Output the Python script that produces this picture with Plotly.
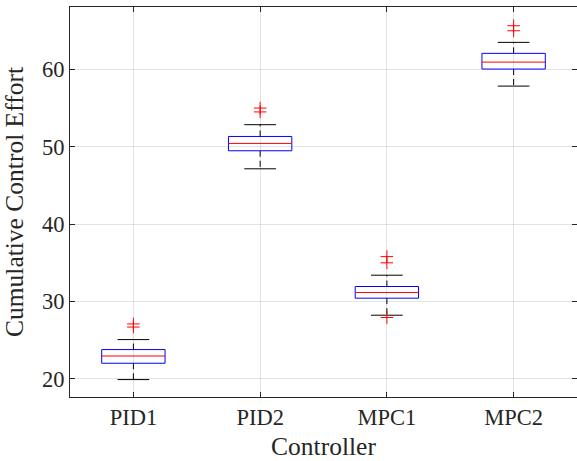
import plotly.graph_objects as go

controllers = ["PID1", "PID2", "MPC1", "MPC2"]
q1 = [22.02, 49.48, 30.43, 60.04]
median = [22.96, 50.43, 31.16, 60.94]
q3 = [23.79, 51.33, 31.94, 62.07]
lower_whisker = [19.91, 47.15, 28.23, 57.84]
upper_whisker = [25.08, 52.85, 33.40, 63.49]
outliers = [[27.1, 26.7], [55.0, 54.5], [35.8, 35.0, 27.93], [65.64, 64.99]]

FONT = "Liberation Serif"
AX = "#262626"
half_box = 0.25
half_cap = 0.125

fig = go.Figure()
for i, name in enumerate(controllers):
    xc = i + 1
    # whiskers (dashed)
    for a, b in ((q3[i], upper_whisker[i]), (q1[i], lower_whisker[i])):
        fig.add_trace(go.Scatter(x=[xc, xc], y=[a, b], mode="lines",
                                 line=dict(color="black", width=1, dash="6px,4px"),
                                 showlegend=False, hoverinfo="skip"))
    # caps
    for v in (upper_whisker[i], lower_whisker[i]):
        fig.add_trace(go.Scatter(x=[xc - half_cap, xc + half_cap], y=[v, v], mode="lines",
                                 line=dict(color="black", width=1),
                                 showlegend=False, hoverinfo="skip"))
    # box
    fig.add_trace(go.Scatter(
        x=[xc - half_box, xc + half_box, xc + half_box, xc - half_box, xc - half_box],
        y=[q1[i], q1[i], q3[i], q3[i], q1[i]], mode="lines",
        line=dict(color="blue", width=1), showlegend=False, hoverinfo="skip"))
    # median
    fig.add_trace(go.Scatter(x=[xc - half_box, xc + half_box], y=[median[i], median[i]],
                             mode="lines", line=dict(color="red", width=1),
                             showlegend=False, hoverinfo="skip"))
    # outliers
    fig.add_trace(go.Scatter(x=[xc] * len(outliers[i]), y=outliers[i], mode="markers",
                             marker=dict(symbol="cross-thin-open", size=9, color="red",
                                         line=dict(color="red", width=1)),
                             showlegend=False))

axis_common = dict(showline=True, linecolor=AX, linewidth=1, mirror="ticks",
                   ticks="inside", ticklen=5, tickcolor=AX,
                   showgrid=True, gridcolor="rgba(0,0,0,0.11)", gridwidth=1,
                   zeroline=False,
                   tickfont=dict(family=FONT, size=22.5, color=AX))

fig.update_layout(
    width=577, height=461,
    margin=dict(l=70, r=0, t=7, b=64),
    plot_bgcolor="white", paper_bgcolor="white",
    xaxis=dict(range=[0.5, 4.5], tickvals=[1, 2, 3, 4], ticktext=controllers,
               title=dict(text="Controller", font=dict(family=FONT, size=25.5, color=AX),
                          standoff=8),
               **axis_common),
    yaxis=dict(range=[17.66, 68.06], tickvals=[20, 30, 40, 50, 60],
               title=dict(text="Cumulative Control Effort",
                          font=dict(family=FONT, size=25.5, color=AX), standoff=14),
               **axis_common),
)

fig.write_html("out.html")
